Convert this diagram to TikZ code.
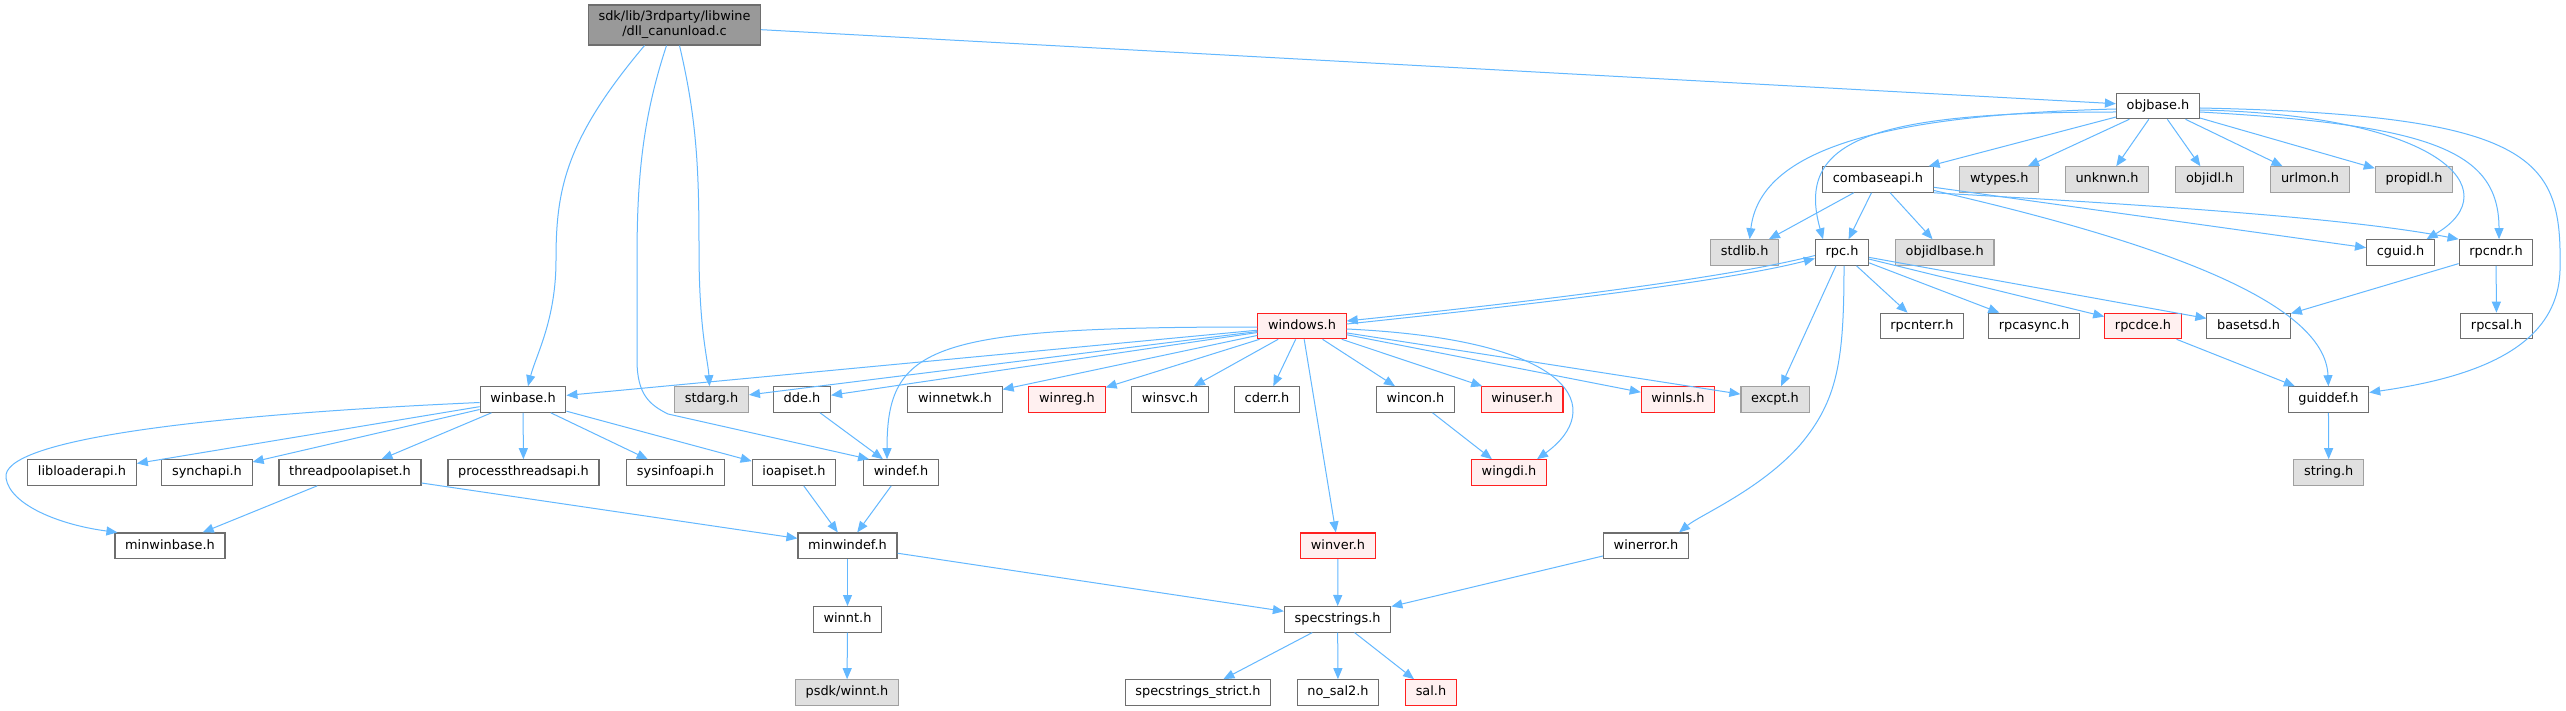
\documentclass[tikz,border=0pt]{standalone}
\usepackage{fontspec}
\setmainfont{DejaVu Sans}
\usetikzlibrary{arrows.meta,calc}

\definecolor{edgeblue}{HTML}{63B8FF}
\definecolor{boxgray}{HTML}{6E6E6E}
\definecolor{missgray}{HTML}{A0A0A0}
\definecolor{missfill}{HTML}{E0E0E0}
\definecolor{truncfill}{HTML}{FFF0F0}
\definecolor{truncred}{HTML}{FF2020}
\definecolor{rootfill}{HTML}{999999}

\tikzset{
  hdr/.style={rectangle, draw=boxgray, fill=white, line width=1.1pt,
    inner xsep=10.2pt, inner ysep=0pt, minimum height=25.5pt,
    text height=9.6pt, text depth=2.8pt},
  miss/.style={draw=missgray, fill=missfill},
  trunc/.style={draw=truncred, fill=truncfill},
  root/.style={draw=boxgray, fill=rootfill, minimum height=40pt, align=center,
    text height={}, text depth={}},
  dep/.style={draw=edgeblue, line width=1pt, -{Triangle[length=11pt,width=9pt]}},
}

\begin{document}
\begin{tikzpicture}[x=1pt, y=-1pt, font=\fontsize{12.9}{15}\selectfont]
			\useasboundingbox[fill=white] (0,0) rectangle (2566,711);

			\begin{scope}[every node/.style={hdr}]
				\node[root] (main) at (674.5,25) {sdk/lib/3rdparty/libwine\\/dll\_canunload.c};
				\node (objbase) at (2158,106) {objbase.h};
				\node (combaseapi) at (1878,179.5) {combaseapi.h};
				\node[miss] (wtypes) at (1999.3,179.5) {wtypes.h};
				\node[miss] (unknwn) at (2107,179.5) {unknwn.h};
				\node[miss] (objidl) at (2209.7,179.5) {objidl.h};
				\node[miss] (urlmon) at (2310,179.5) {urlmon.h};
				\node[miss] (propidl) at (2414,179.5) {propidl.h};
				\node[miss] (stdlib) at (1744.6,252.5) {stdlib.h};
				\node (rpc) at (1842,252.5) {rpc.h};
				\node[miss] (objidlbase) at (1944.7,252.5) {objidlbase.h};
				\node (cguid) at (2400.5,252.5) {cguid.h};
				\node (rpcndr) at (2496,252.5) {rpcndr.h};
				\node[trunc] (windows) at (1302,326) {windows.h};
				\node (rpcnterr) at (1922,326) {rpcnterr.h};
				\node (rpcasync) at (2034,326) {rpcasync.h};
				\node[trunc] (rpcdce) at (2143,326) {rpcdce.h};
				\node (basetsd) at (2248.6,326) {basetsd.h};
				\node (rpcsal) at (2496.5,326) {rpcsal.h};
				\node (winbase) at (523,399.5) {winbase.h};
				\node[miss] (stdarg) at (711.5,399.5) {stdarg.h};
				\node (dde) at (802,399.5) {dde.h};
				\node (winnetwk) at (955,399.5) {winnetwk.h};
				\node[trunc] (winreg) at (1067,399.5) {winreg.h};
				\node (winsvc) at (1170,399.5) {winsvc.h};
				\node (cderr) at (1267,399.5) {cderr.h};
				\node (wincon) at (1415.5,399.5) {wincon.h};
				\node[trunc] (winuser) at (1522,399.5) {winuser.h};
				\node[trunc] (winnls) at (1678,399.5) {winnls.h};
				\node[miss] (excpt) at (1775,399.5) {excpt.h};
				\node (guiddef) at (2328.4,399.5) {guiddef.h};
				\node (libloader) at (82,472.5) {libloaderapi.h};
				\node (synchapi) at (207,472.5) {synchapi.h};
				\node (threadpool) at (350,472.5) {threadpoolapiset.h};
				\node (procthreads) at (523.5,472.5) {processthreadsapi.h};
				\node (sysinfo) at (675.5,472.5) {sysinfoapi.h};
				\node (ioapiset) at (794,472.5) {ioapiset.h};
				\node (windef) at (901,472.5) {windef.h};
				\node[trunc] (wingdi) at (1509,472.5) {wingdi.h};
				\node[miss] (stringh) at (2328.7,472.5) {string.h};
				\node (minwinbase) at (170,545.7) {minwinbase.h};
				\node (minwindef) at (847.5,545.7) {minwindef.h};
				\node[trunc] (winver) at (1338,545.7) {winver.h};
				\node (winerror) at (1646,545.7) {winerror.h};
				\node (winnt) at (847.5,619.3) {winnt.h};
				\node (specstrings) at (1337.6,619.3) {specstrings.h};
				\node[miss] (psdkwinnt) at (847,692.5) {psdk/winnt.h};
				\node (specstrict) at (1198,692.5) {specstrings\_strict.h};
				\node (nosal) at (1338,692.5) {no\_sal2.h};
				\node[trunc] (sal) at (1431,692.5) {sal.h};
			\end{scope}

			\begin{scope}[every edge/.style={dep}]
				\path (main) edge (objbase);
				\path (objbase) edge (combaseapi);
				\path (objbase) edge (wtypes);
				\path (objbase) edge (unknwn);
				\path (objbase) edge (objidl);
				\path (objbase) edge (urlmon);
				\path (objbase) edge (propidl);
				\path (combaseapi) edge (stdlib);
				\path (combaseapi) edge (rpc);
				\path (combaseapi) edge (objidlbase);
				\path (combaseapi) edge (cguid);
				\path (rpc) edge (excpt);
				\path (rpc) edge (rpcnterr);
				\path (rpc) edge (rpcasync);
				\path (rpc) edge (rpcdce);
				\path (rpc) edge (basetsd);
				\path (rpcndr) edge (basetsd);
				\path (rpcndr) edge (rpcsal);
				\path (rpcdce) edge (guiddef);
				\path (guiddef) edge (stringh);
				\path (windows) edge (winbase);
				\path (windows) edge (stdarg);
				\path (windows) edge (dde);
				\path (windows) edge (winnetwk);
				\path (windows) edge (winreg);
				\path (windows) edge (winsvc);
				\path (windows) edge (cderr);
				\path (windows) edge (wincon);
				\path (windows) edge (winuser);
				\path (windows) edge (winnls);
				\path (windows) edge (excpt);
				\path (windows) edge (winver);
				\path (winbase) edge (libloader);
				\path (winbase) edge (synchapi);
				\path (winbase) edge (threadpool);
				\path (winbase) edge (procthreads);
				\path (winbase) edge (sysinfo);
				\path (winbase) edge (ioapiset);
				\path (threadpool) edge (minwinbase);
				\path (threadpool) edge (minwindef);
				\path (ioapiset) edge (minwindef);
				\path (windef) edge (minwindef);
				\path (dde) edge (windef);
				\path (wincon) edge (wingdi);
				\path (minwindef) edge (winnt);
				\path (minwindef) edge (specstrings);
				\path (winnt) edge (psdkwinnt);
				\path (winver) edge (specstrings);
				\path (winerror) edge (specstrings);
				\path (specstrings) edge (specstrict);
				\path (specstrings) edge (nosal);
				\path (specstrings) edge (sal);
			\end{scope}

			% curved connectors
			\draw[dep] ($(main.south)+(-30,0)$) .. controls (565,140) and (556,190) .. (556,260)
				.. controls (556,320) and (536,355) .. ($(winbase.north)+(5,0)$);
			\draw[dep] ($(main.south)+(-8,0)$) .. controls (642,120) and (637,180) .. (637,260) -- (637,360)
				.. controls (637,395) and (650,405) .. (668,414) -- ($(windef.north west)+(6,0)$);
			\draw[dep] ($(main.south)+(5,0)$) .. controls (697,120) and (699,170) .. (699,250)
				.. controls (699,330) and (708,360) .. ($(stdarg.north)+(-2,0)$);
			\draw[dep] ($(objbase.west)+(0,3)$) .. controls (1880,115) and (1760,150) .. ($(stdlib.north)+(5,0)$);
			\draw[dep] ($(objbase.west)+(0,6)$) .. controls (1870,112) and (1795,140) .. ($(rpc.north)+(-19,0)$);
			\draw[dep] ($(objbase.east)+(0,4)$) .. controls (2440,115) and (2510,190) .. ($(cguid.north)+(26,0)$);
			\draw[dep] ($(objbase.east)+(0,6)$) .. controls (2430,125) and (2499,150) .. ($(rpcndr.north)+(3,0)$);
			\draw[dep] ($(objbase.east)+(0,2)$) .. controls (2540,115) and (2562,160) .. (2560,270)
				.. controls (2558,350) and (2470,378) .. ($(guiddef.east)+(0,-7)$);
			\draw[dep] (combaseapi.south east) .. controls (2150,205) and (2350,218) .. (rpcndr.north west);
			\draw[dep] ($(combaseapi.east)+(0,11)$) .. controls (2150,240) and (2325,300) .. (guiddef.north);
			\draw[dep] ($(rpc.west)+(0,3)$) .. controls (1720,280) and (1500,305) .. ($(windows.east)+(0,-5)$);
			\draw[dep] ($(windows.east)+(0,-2)$) .. controls (1500,308) and (1720,283) .. ($(rpc.west)+(0,6)$);
			\draw[dep] ($(rpc.south)+(2,0)$) .. controls (1844,360) and (1838,400) .. (1800,445)
				.. controls (1760,490) and (1700,515) .. ($(winerror.north east)+(-10,0)$);
			\draw[dep] ($(windows.west)+(0,1)$) .. controls (930,327) and (887,345) .. ($(windef.north)+(-14,0)$);
			\draw[dep] ($(windows.east)+(0,3)$) .. controls (1580,340) and (1605,410) .. ($(wingdi.north east)+(-10,0)$);
			\draw[dep] ($(winbase.west)+(0,3)$) .. controls (200,415) and (0,440) .. (6,478)
				.. controls (10,505) and (60,525) .. ($(minwinbase.north west)+(3,0)$);
		\end{tikzpicture}
\end{document}
